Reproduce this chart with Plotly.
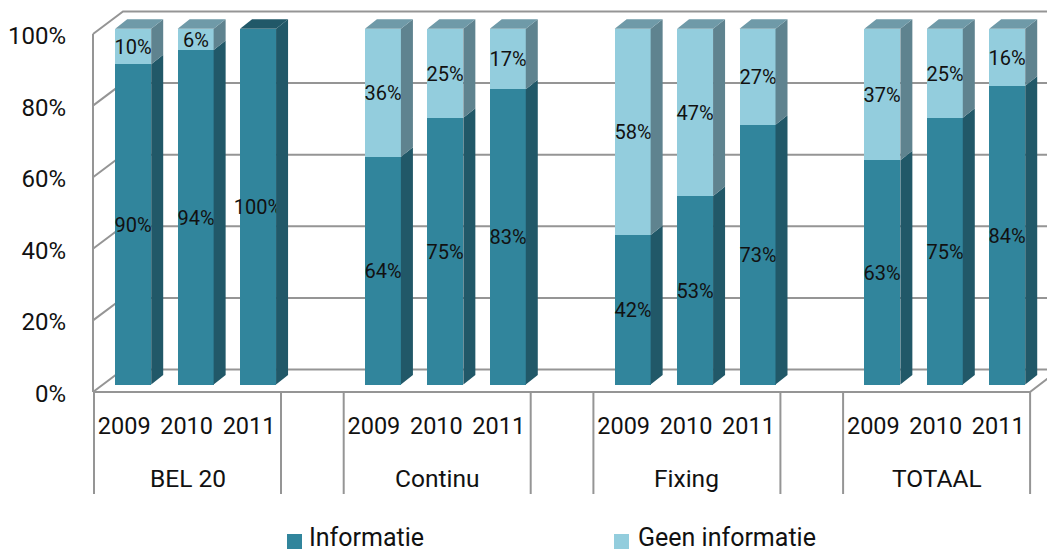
import plotly.graph_objects as go

# ---- chart data ----
groups = ["BEL 20", "Continu", "Fixing", "TOTAAL"]
years = ["2009", "2010", "2011"]
informatie = [90, 94, 100, 64, 75, 83, 42, 53, 73, 63, 75, 84]
geen_informatie = [10, 6, 0, 36, 25, 17, 58, 47, 27, 37, 25, 16]
y_tick_values = [0, 20, 40, 60, 80, 100]
y_tick_labels = ["0%", "20%", "40%", "60%", "80%", "100%"]

# ---- colours ----
TEAL, TEAL_SIDE, TEAL_TOP = "#31859C", "#215868", "#215868"
SKY, SKY_SIDE, SKY_TOP = "#93CDDD", "#5F838F", "#6F9AA8"
GRID = "#959595"
INK = "#111111"
FONT = "Roboto"

# ---- canvas and projection geometry ----
W, H = 1047, 553
M_L, M_B = 80, 553 - 396
SLOT_PX, SLOT_0_PX = 62.43, 133.2
Y0_PX, UNIT_PX = 384.5, 3.558
BAR_W = 36 / SLOT_PX
DX, DY = 12 / SLOT_PX, 9.5 / UNIT_PX


def sx(px):
    return (px - SLOT_0_PX) / SLOT_PX


def vy(py):
    return (Y0_PX - py) / UNIT_PX


def py_paper(py):
    return (H - M_B - py) / (H - M_B)


# category slots: three bars per group with two empty slots between groups
slots = [g * 4 + i for g in range(len(groups)) for i in range(len(years))]
year_ticks = [s - 9 / SLOT_PX for s in slots]
year_text = [years[i] for _ in groups for i in range(len(years))]


def wall_y(v):
    """Pixel row of a percentage on the front edge of the side wall."""
    return 392 - 3.58 * v


def poly_trace(polys, color):
    xs, ys = [], []
    for p in polys:
        xs += [q[0] for q in p] + [p[0][0], None]
        ys += [q[1] for q in p] + [p[0][1], None]
    return go.Scatter(x=xs, y=ys, mode="lines", fill="toself", fillcolor=color,
                      line=dict(width=0, color=color), hoverinfo="skip",
                      showlegend=False)


# side and top faces of the extruded columns
side_teal, side_sky, top_teal, top_sky = [], [], [], []
for s, a, b in zip(slots, informatie, geen_informatie):
    r, l = s + BAR_W / 2, s - BAR_W / 2
    side_teal.append([(r, 0), (r + DX, DY), (r + DX, a + DY), (r, a)])
    if b:
        side_sky.append([(r, a), (r + DX, a + DY), (r + DX, a + b + DY), (r, a + b)])
    top = a + b
    face = [(l, top), (r, top), (r + DX, top + DY), (l + DX, top + DY)]
    (top_sky if b else top_teal).append(face)

fig = go.Figure()
fig.add_bar(x=slots, y=informatie, width=BAR_W, name="Informatie",
            marker=dict(color=TEAL, line=dict(width=0)),
            text=[f"{v}%" for v in informatie])
fig.add_bar(x=slots, y=geen_informatie, width=BAR_W, name="Geen informatie",
            marker=dict(color=SKY, line=dict(width=0)),
            text=[f"{v}%" if v else "" for v in geen_informatie])
fig.update_traces(textposition="inside", insidetextanchor="middle",
                  constraintext="none", textangle=0,
                  insidetextfont=dict(family=FONT, size=20, color=INK),
                  showlegend=False)
for polys, col in [(side_teal, TEAL_SIDE), (side_sky, SKY_SIDE),
                   (top_teal, TEAL_TOP), (top_sky, SKY_TOP)]:
    fig.add_trace(poly_trace(polys, col))

# walls and floor, drawn beneath the columns
shapes = []
line = dict(color=GRID, width=2)
BACK_X, BACK_UP = 123, 22.5
for v in y_tick_values:
    f = wall_y(v)
    shapes.append(dict(type="path", layer="below", xref="x", yref="y", line=line,
                       path=f"M{sx(93)},{vy(f)} L{sx(BACK_X)},{vy(f - BACK_UP)} L{sx(1060)},{vy(f - BACK_UP)}"))
shapes.append(dict(type="line", layer="below", xref="x", yref="y", line=line,
                   x0=sx(93), x1=sx(93), y0=vy(wall_y(0)), y1=vy(wall_y(100))))
shapes.append(dict(type="path", layer="below", xref="x", yref="y", line=line,
                   path=f"M{sx(93)},{vy(392)} L{sx(1030)},{vy(392)} L{sx(1060)},{vy(392 - 23)}"))

# dividers between the category groups
for g in range(len(groups)):
    for px in (94 + g * 249.7, 281 + g * 249.7):
        shapes.append(dict(type="line", xref="x", yref="paper", line=line,
                           x0=sx(px), x1=sx(px), y0=py_paper(392), y1=py_paper(494)))

annotations = []
for g, name in enumerate(groups):
    annotations.append(dict(x=sx(187.5 + g * 249.7), y=py_paper(478), xref="x", yref="paper",
                            text=name, showarrow=False, xanchor="center", yanchor="middle",
                            font=dict(family=FONT, size=24.5, color=INK)))

# legend keys
for swatch_px, text_px, label, col in [(287, 307, "Informatie", TEAL),
                                       (614, 636, "Geen informatie", SKY)]:
    shapes.append(dict(type="rect", xref="x", yref="paper", fillcolor=col, line=dict(width=0),
                       x0=sx(swatch_px), x1=sx(swatch_px + 15),
                       y0=py_paper(534), y1=py_paper(549)))
    annotations.append(dict(x=sx(text_px), y=py_paper(537.5), xref="x", yref="paper",
                            text=label, showarrow=False, xanchor="left", yanchor="middle",
                            font=dict(family=FONT, size=25, color=INK)))

fig.update_layout(
    width=W, height=H, barmode="stack", bargap=0, showlegend=False,
    paper_bgcolor="white", plot_bgcolor="white",
    margin=dict(l=M_L, r=0, t=0, b=M_B, pad=0),
    shapes=shapes, annotations=annotations,
    xaxis=dict(range=[sx(M_L), sx(W)], tickmode="array", tickvals=year_ticks,
               ticktext=year_text, ticks="", showgrid=False, zeroline=False,
               showline=False, ticklabelstandoff=13,
               tickfont=dict(family=FONT, size=23.5, color=INK)),
    yaxis=dict(range=[vy(H - M_B), vy(0)], tickmode="array",
               tickvals=[vy(wall_y(v) + 1.5) for v in y_tick_values],
               ticktext=y_tick_labels, ticks="", showgrid=False, zeroline=False,
               showline=False, ticklabelstandoff=13,
               tickfont=dict(family=FONT, size=24, color=INK)),
    font=dict(family=FONT),
)

fig.write_html("out.html")
